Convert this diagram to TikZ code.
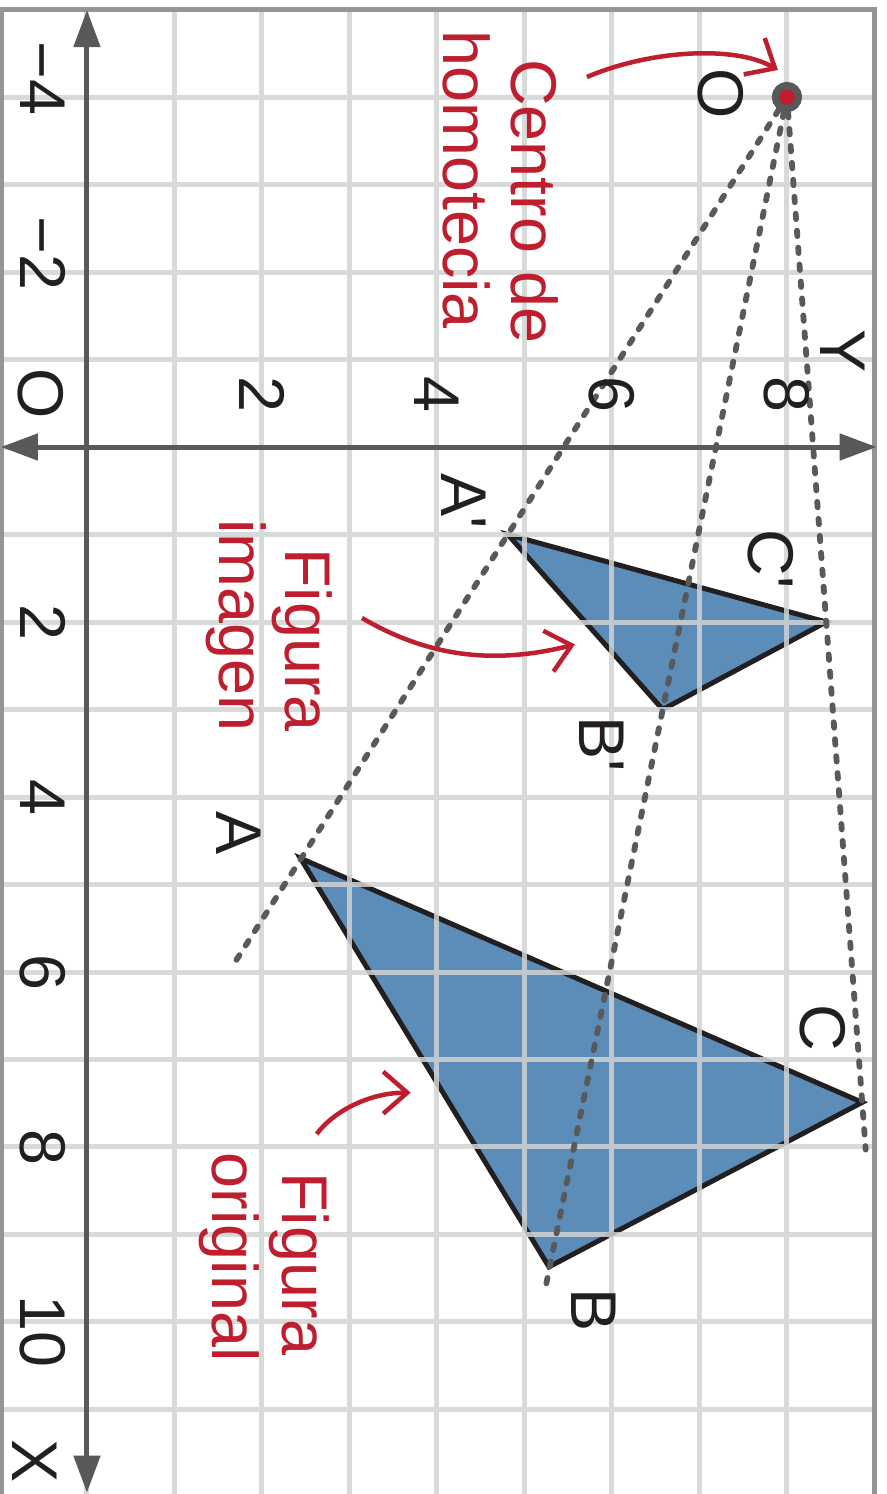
\documentclass[tikz,border=0pt]{standalone}
\usepackage{fontspec}
\setmainfont{Liberation Sans}
\usetikzlibrary{arrows.meta}
\definecolor{gridGray}{HTML}{D1D3D4}
\definecolor{frameGray}{HTML}{939598}
\definecolor{axisGray}{HTML}{58595B}
\definecolor{inkBlack}{HTML}{231F20}
\definecolor{homRed}{HTML}{BE1E2D}
\definecolor{figBlue}{HTML}{5B8DB8}

\begin{document}
\begin{tikzpicture}[
  rotate=-90, transform shape,
  x=0.875cm, y=0.875cm,
  every node/.style={font=\fontsize{18.4}{19.5}\selectfont, inner sep=0pt,
    text=inkBlack},
  gridLine/.style={gridGray, opacity=0.85, line width=0.05cm},
  frameLine/.style={frameGray, line width=0.045cm},
  axisLine/.style={axisGray, line width=0.05cm,
    {Triangle[length=0.37cm, width=0.26cm]}-{Triangle[length=0.37cm, width=0.26cm]}},
  figFill/.style={fill=figBlue},
  figEdge/.style={draw=inkBlack, line width=0.05cm},
  rayLine/.style={axisGray, line width=0.058cm, line cap=round,
    dash pattern=on 0.055cm off 0.115cm},
  centerDot/.style={circle, fill=homRed, draw=axisGray, line width=0.07cm,
    minimum size=0.23cm, inner sep=0pt},
  redText/.style={text=homRed, anchor=base west},
  redArrow/.style={homRed, line width=0.045cm,
    -{Straight Barb[length=0.24cm, width=0.42cm]}}
]
\useasboundingbox (-5.109,-0.994) rectangle (11.966,9.143);

\coordinate (A) at (4.70,2.44);
\coordinate (B) at (9.37,5.28);
\coordinate (C) at (7.49,8.86);
\coordinate (Ap) at (1,4.81);
\coordinate (Bp) at (3,6.58);
\coordinate (Cp) at (2,8.449);
\coordinate (rayEndA) at (5.89,1.69); % past A
\coordinate (rayEndB) at (9.66,5.23); % past B
\coordinate (rayEndC) at (8.03,8.90); % past C

% Both figures, grid laid over them.
\fill[figFill] (A) -- (B) -- (C) -- cycle;
\fill[figFill] (Ap) -- (Bp) -- (Cp) -- cycle;
\draw[figEdge] (A) -- (B) -- (C) -- cycle;
\draw[figEdge] (Ap) -- (Bp) -- (Cp) -- cycle;
\draw[gridLine, step=1] (-5,-0.97) grid (12,9);
\draw[frameLine] (12,-0.97) -- (-5,-0.97) -- (-5,9) -- (12,9);

% Axes.
\draw[axisLine] (-4.994,0) -- (11.95,0);
\draw[axisLine] (0,-0.983) -- (0,9.025);

% Rays from the centre.
\node[centerDot] (O) at (-4,8) {};
\draw[rayLine] (O) -- (rayEndA);
\draw[rayLine] (O) -- (rayEndB);
\draw[rayLine] (O) -- (rayEndC);
\node[centerDot] at (O) {};

% Tick labels.
\node[anchor=north] (tickXm4) at (-4,-0.24) {\llap{−}4};
\node[anchor=north] (tickXm2) at (-2,-0.24) {\llap{−}2};
\node[anchor=north] (tickX2) at (2,-0.24) {2};
\node[anchor=north] (tickX4) at (4,-0.24) {4};
\node[anchor=north] (tickX6) at (6,-0.24) {6};
\node[anchor=north] (tickX8) at (8,-0.24) {8};
\node[anchor=north] (tickX10) at (10.11,-0.24) {10};
\node[anchor=east] (tickY2) at (-0.39,2) {2};
\node[anchor=east] (tickY4) at (-0.39,4) {4};
\node[anchor=east] (tickY6) at (-0.39,6) {6};
\node[anchor=east] (tickY8) at (-0.39,8) {8};
\node (lblOrigin) at (-0.606,-0.526) {O};
\node (lblX) at (11.59,-0.6) {X};
\node (lblY) at (-1.091,8.634) {Y};

% Vertex labels.
\node (lblO) at (-4.034,7.246) {O};
\node (lblAp) at (0.617,4.303) {A\textquotesingle};
\node (lblBp) at (3.4,5.886) {B\textquotesingle};
\node (lblCp) at (1.280,7.817) {C\textquotesingle};
\node (lblA) at (4.417,1.731) {A};
\node (lblB) at (9.869,5.789) {B};
\node (lblC) at (6.634,8.411) {C};

% Red notes.
\node[redText] (txtCentro) at (-4.44,4.854) {Centro de};
\node[redText] (txtHomotecia) at (-4.77,4.069) {homotecia};
\node[redText] (txtFiguraIm) at (1.15,2.274) {Figura};
\node[redText] (txtImagen) at (0.82,1.517) {imagen};
\node[redText] (txtFiguraOr) at (8.28,2.24) {Figura};
\node[redText] (txtOriginal) at (8.06,1.44) {original};

\coordinate (arrCentroFrom) at (-4.229,5.714);
\coordinate (arrCentroTo) at (-4.309,7.897);
\coordinate (arrImagenFrom) at (1.954,3.143);
\coordinate (arrImagenTo) at (2.257,5.577);
\coordinate (arrOriginalFrom) at (7.851,2.625);
\coordinate (arrOriginalTo) at (7.379,3.699);
\draw[redArrow] (arrCentroFrom) .. controls (-4.537,6.434) and (-4.594,7.406) .. (arrCentroTo);
\draw[redArrow] (arrImagenFrom) .. controls (2.417,3.931) and (2.480,4.686) .. (arrImagenTo);
\draw[redArrow] (arrOriginalFrom) .. controls (7.577,2.834) and (7.379,3.242) .. (arrOriginalTo);
\end{tikzpicture}
\end{document}
